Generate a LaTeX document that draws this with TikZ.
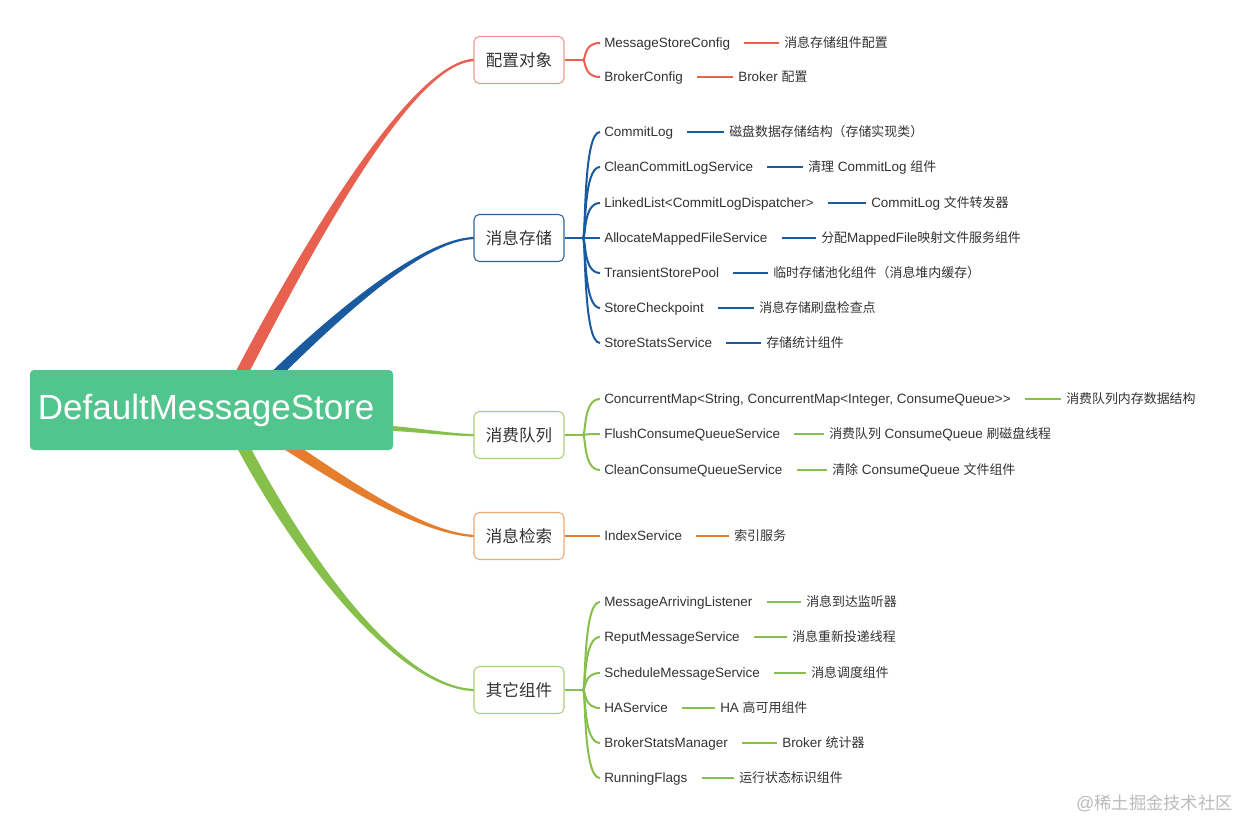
\documentclass[tikz,border=0pt]{standalone}
\usepackage{fontspec}
\setmainfont{Liberation Sans}
\newfontfamily\cjk[Scale=0.96]{Noto Sans CJK SC}
\newcommand{\zh}[1]{{\cjk #1}}
\definecolor{cred}{HTML}{E8604F}
\definecolor{cblue}{HTML}{1A5BA0}
\definecolor{cgreen}{HTML}{86C04A}
\definecolor{corange}{HTML}{E47D2C}
\definecolor{croot}{HTML}{52C48E}
\definecolor{bred}{HTML}{E49A92}
\definecolor{bblue}{HTML}{2E6399}
\definecolor{bgreen}{HTML}{A6D07A}
\definecolor{borange}{HTML}{EFA96F}
\definecolor{tgray}{HTML}{333333}
\definecolor{wgray}{HTML}{BBBBBB}
\newcommand{\leaffont}{\fontsize{10.1pt}{12pt}\selectfont}
\newcommand{\mkleaf}[6]{%
  \node[leaftext] (#1) at (604,#2) {#3};
  \node[leaftext] (#1d) at (#4,#2) {#5};
  \draw[conn,#6] (#1.east) -- (#1d.west);
  \draw[brc,#6] (j#6) .. controls +(3,0) and +(-17,0) .. ([xshift=-3pt]#1.west);
}
\begin{document}
\begin{tikzpicture}[x=0.75pt,y=-0.75pt,
  leaftext/.style={inner sep=0pt, anchor=west, text height=8pt, text depth=0.8pt, font=\leaffont, text=tgray},
  conn/.style={line width=1.5pt, shorten <=10.5pt, shorten >=3.75pt},
  brc/.style={line width=1.5pt},
  bbox/.style={rounded corners=4pt, fill=white, line width=0.8pt, minimum width=67.5pt, minimum height=35.25pt, inner sep=0pt, text=tgray, font=\fontsize{12.9pt}{15pt}\selectfont\cjk},
  rootbox/.style={rounded corners=3pt, fill=croot, minimum width=272.25pt, minimum height=60pt, inner sep=0pt, text=white, font=\fontsize{26.25pt}{30pt}\selectfont}
]
\useasboundingbox (0,0) rectangle (1240,821);
\fill[white] (0,0) rectangle (1240,821);

% tapered main branches
\fill[cred] (226.5,389.2) .. controls (294.5,257.2) and (410,60.8) .. (474,58.8) -- (474,61.2) .. controls (410,63.2) and (305.5,262.8) .. (237.5,394.8) -- cycle;
\fill[cblue] (251.5,391.5) .. controls (326.5,316.5) and (420,238.9) .. (474,236.9) -- (474,239.1) .. controls (420,241.1) and (333.5,323.5) .. (258.5,398.5) -- cycle;
\fill[cgreen] (385,425.5) .. controls (420,427.8) and (450,433.9) .. (474,433.9) -- (474,436.1) .. controls (450,436.1) and (420,432.2) .. (385,430.5) -- cycle;
\fill[corange] (268,425.4) .. controls (343,475.4) and (420,531.9) .. (474,534.9) -- (474,537.1) .. controls (420,534.1) and (337,484.6) .. (262,434.6) -- cycle;
\fill[cgreen] (237.4,422.3) .. controls (305.4,557.3) and (400,686.9) .. (474,688.9) -- (474,691.1) .. controls (400,689.1) and (294.6,562.7) .. (226.6,427.7) -- cycle;

% root
\node[rootbox] (root) at (211.5,410) {\hspace*{-8pt}DefaultMessageStore};

% branch boxes
\node[bbox, draw=bred] (bA) at (519,60) {配置对象};
\node[bbox, draw=bblue] (bB) at (519,238) {消息存储};
\node[bbox, draw=bgreen] (bC) at (519,435) {消费队列};
\node[bbox, draw=borange] (bD) at (519,536) {消息检索};
\node[bbox, draw=bgreen] (bE) at (519,690) {其它组件};

% junctions
\coordinate (jcred) at (583,60);
\coordinate (jcblue) at (583,238);
\coordinate (jcgreen) at (583,435);
\coordinate (jcorange) at (583,536);
\draw[brc,cred] (bA.east) -- (jcred);
\draw[brc,cblue] (bB.east) -- (jcblue);
\draw[brc,cgreen] (bC.east) -- (jcgreen);
\draw[brc,corange] (bD.east) -- (jcorange);

\mkleaf{a1}{43}{MessageStoreConfig}{784}{\zh{消息存储组件配置}}{cred}
\mkleaf{a2}{77}{BrokerConfig}{738}{Broker \zh{配置}}{cred}

\mkleaf{b1}{132}{CommitLog}{729}{\zh{磁盘数据存储结构（存储实现类）}}{cblue}
\mkleaf{b2}{167}{CleanCommitLogService}{808}{\zh{清理} CommitLog \zh{组件}}{cblue}
\mkleaf{b3}{203}{LinkedList<CommitLogDispatcher>}{871}{CommitLog \zh{文件转发器}}{cblue}
\mkleaf{b4}{238}{AllocateMappedFileService}{821}{\zh{分配}MappedFile\zh{映射文件服务组件}}{cblue}
\mkleaf{b5}{273}{TransientStorePool}{773}{\zh{临时存储池化组件（消息堆内缓存）}}{cblue}
\mkleaf{b6}{308}{StoreCheckpoint}{759}{\zh{消息存储刷盘检查点}}{cblue}
\mkleaf{b7}{343}{StoreStatsService}{766}{\zh{存储统计组件}}{cblue}

\mkleaf{c1}{399}{ConcurrentMap<String, ConcurrentMap<Integer, ConsumeQueue>{}>}{1066}{\zh{消费队列内存数据结构}}{cgreen}
\mkleaf{c2}{434}{FlushConsumeQueueService}{829}{\zh{消费队列} ConsumeQueue \zh{刷磁盘线程}}{cgreen}
\mkleaf{c3}{470}{CleanConsumeQueueService}{832}{\zh{清除} ConsumeQueue \zh{文件组件}}{cgreen}

\mkleaf{d1}{536}{IndexService}{734}{\zh{索引服务}}{corange}

\coordinate (jcgreen) at (583,690);
\draw[brc,cgreen] (bE.east) -- (jcgreen);
\mkleaf{e1}{602}{MessageArrivingListener}{806}{\zh{消息到达监听器}}{cgreen}
\mkleaf{e2}{637}{ReputMessageService}{792}{\zh{消息重新投递线程}}{cgreen}
\mkleaf{e3}{673}{ScheduleMessageService}{811}{\zh{消息调度组件}}{cgreen}
\mkleaf{e4}{708}{HAService}{720}{HA \zh{高可用组件}}{cgreen}
\mkleaf{e5}{743}{BrokerStatsManager}{782}{Broker \zh{统计器}}{cgreen}
\mkleaf{e6}{778}{RunningFlags}{739}{\zh{运行状态标识组件}}{cgreen}

% watermark
\node[anchor=east, inner sep=0pt, text=wgray, font=\fontsize{13.5pt}{16pt}\selectfont] (wm) at (1233,803) {@\zh{稀土掘金技术社区}};
\end{tikzpicture}
\end{document}
